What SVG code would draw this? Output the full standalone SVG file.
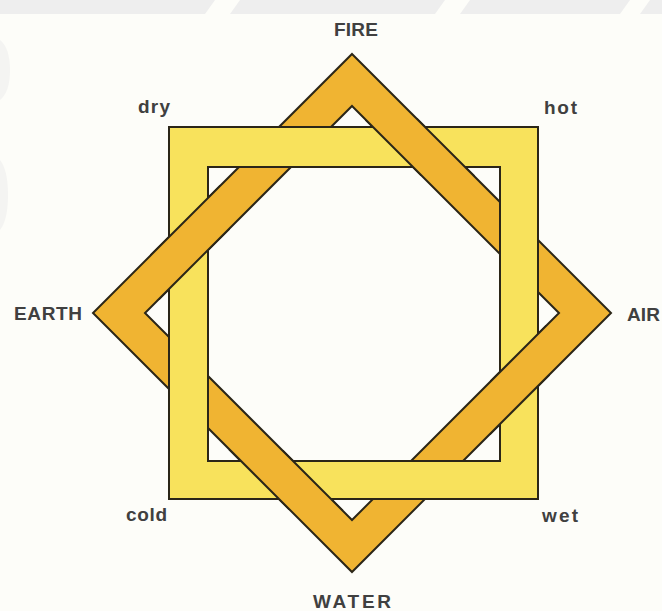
<svg xmlns="http://www.w3.org/2000/svg" width="662" height="611" viewBox="0 0 662 611">
  <defs>
    <style>
      .bg { fill: #fdfdf9; }
      .wm { fill: #eeeeee; }
      .wm2 { fill: #f4f4f2; }
      .diamond { fill: #f0b432; fill-rule: evenodd; stroke: #2b2618; stroke-width: 2; stroke-linejoin: miter; }
      .square { fill: #f8e25c; fill-rule: evenodd; stroke: #2b2618; stroke-width: 2; stroke-linejoin: miter; }
      .lbl { font-family: "Liberation Sans", Arial, Helvetica, sans-serif; font-size: 19px; font-weight: bold; fill: #404040; }
    </style>
    <path id="diamondRing" d="M352,54 L611,313 L352,572 L93,313 Z M352,106 L559,313 L352,520 L145,313 Z"/>
    <clipPath id="overClip">
      <rect x="150" y="185" width="80" height="115"/>
      <rect x="225" y="450" width="120" height="60"/>
      <rect x="490" y="325" width="60" height="110"/>
      <rect x="365" y="118" width="110" height="58"/>
    </clipPath>
  </defs>

  <rect class="bg" x="0" y="0" width="662" height="611"/>
  <g id="watermark">
    <polygon class="wm" points="0,0 215,0 205,14 0,14"/>
    <polygon class="wm" points="240,0 445,0 435,14 230,14"/>
    <polygon class="wm" points="470,0 630,0 620,14 460,14"/>
    <polygon class="wm" points="650,0 662,0 662,14 640,14"/>
    <path class="wm2" d="M0,40 Q10,48 10,70 Q10,92 0,100 Z"/>
    <path class="wm2" d="M0,160 Q8,170 8,195 Q8,220 0,230 Z"/>
  </g>

  <g id="diamond">
    <use href="#diamondRing" class="diamond"/>
  </g>

  <g id="square">
    <path class="square" d="M169,127 H538 V499 H169 Z M208,167 H500 V461 H208 Z"/>
  </g>

  <g id="diamond-over" clip-path="url(#overClip)">
    <use href="#diamondRing" class="diamond"/>
  </g>

  <g id="connectors"></g>

  <g id="labels">
    <g id="label-fire"><text class="lbl" x="334" y="36" textLength="44" lengthAdjust="spacing">FIRE</text></g>
    <g id="label-dry"><text class="lbl" x="138" y="113" textLength="32" lengthAdjust="spacing">dry</text></g>
    <g id="label-hot"><text class="lbl" x="544" y="114" textLength="33" lengthAdjust="spacing">hot</text></g>
    <g id="label-earth"><text class="lbl" x="14" y="320" textLength="68" lengthAdjust="spacing">EARTH</text></g>
    <g id="label-air"><text class="lbl" x="627" y="321" textLength="33" lengthAdjust="spacing">AIR</text></g>
    <g id="label-cold"><text class="lbl" x="126" y="521" textLength="41" lengthAdjust="spacing">cold</text></g>
    <g id="label-wet"><text class="lbl" x="542" y="522" textLength="36" lengthAdjust="spacing">wet</text></g>
    <g id="label-water"><text class="lbl" x="313" y="608" textLength="78" lengthAdjust="spacing">WATER</text></g>
  </g>
</svg>
